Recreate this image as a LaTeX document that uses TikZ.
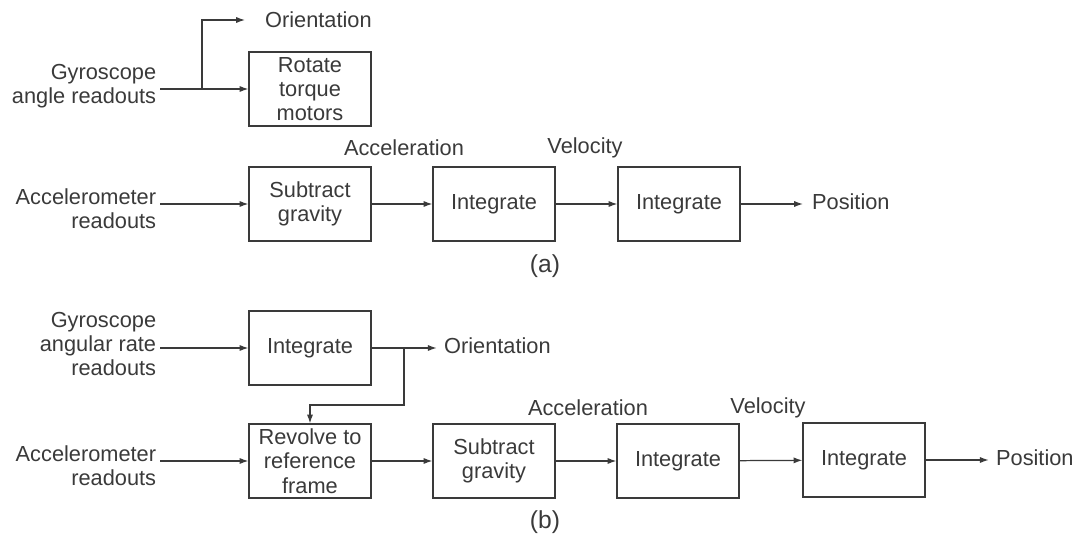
\documentclass[tikz,border=0pt]{standalone}
\usepackage{fontspec}
\setmainfont{Liberation Sans}
\usetikzlibrary{arrows.meta}
\definecolor{inkgray}{HTML}{3A3A3A}
\tikzset{
  blockbox/.style={draw=inkgray, line width=0.7pt, align=center, inner sep=0pt,
    minimum width=2.44cm, minimum height=1.48cm, text=inkgray},
  sidetext/.style={align=right, anchor=east, inner sep=2pt, text=inkgray},
  plaintext/.style={inner sep=1pt, text=inkgray},
  flow/.style={draw=inkgray, line width=0.7pt, -{Latex[length=5pt,width=3.5pt]}}
}
\begin{document}
\begin{tikzpicture}[x=0.02cm,y=-0.02cm, font=\fontsize{12.4}{13.8}\selectfont]
\useasboundingbox (0,0) rectangle (1080,551);
% (a) gimballed platform
\node[sidetext] (gyroa) at (160,86) {Gyroscope\\angle readouts};
\node[blockbox] (rot) at (310,89) {Rotate\\torque\\motors};
\node[plaintext, anchor=west] (oria) at (263,20) {Orientation};
\coordinate (bra) at (202,89);
\coordinate (oriend) at (245,20);
\draw[flow] (gyroa.east |- rot) -- (rot.west);
\draw[flow] (bra) |- (oriend);
\node[sidetext] (acca) at (160,209) {Accelerometer\\readouts};
\node[blockbox] (suba) at (310,204) {Subtract\\gravity};
\node[blockbox] (inta) at (494,204) {Integrate};
\node[blockbox] (intaa) at (679,204) {Integrate};
\node[plaintext, anchor=west] (posa) at (810,202) {Position};
\node[plaintext] (accla) at (404,148) {Acceleration};
\node[plaintext] (vela) at (585,148) {Velocity};
\draw[flow] (acca.east |- suba) -- (suba.west);
\draw[flow] (suba) -- (inta);
\draw[flow] (inta) -- (intaa);
\draw[flow] (intaa.east) -- ([xshift=-4pt]posa.west |- intaa);
\node[plaintext, font=\fontsize{14}{16}\selectfont] (capa) at (545,266) {(a)};
% (b) strapdown
\node[sidetext] (gyrob) at (160,344) {Gyroscope\\angular rate\\readouts};
\node[blockbox] (intb) at (310,348) {Integrate};
\node[plaintext, anchor=west] (orib) at (442,346) {Orientation};
\coordinate (brb) at (404,348);
\draw[flow] (gyrob.east |- intb) -- (intb.west);
\draw[flow] (intb.east) -- ([xshift=-3pt]orib.west |- intb);
\node[sidetext] (accb) at (160,466) {Accelerometer\\readouts};
\node[blockbox] (rev) at (310,461) {Revolve to\\reference\\frame};
\node[blockbox] (subb) at (494,461) {Subtract\\gravity};
\node[blockbox] (intbb) at (678,461) {Integrate};
\node[blockbox] (intbc) at (864,460) {Integrate};
\node[plaintext, anchor=west] (posb) at (994,458) {Position};
\node[plaintext] (acclb) at (588,408) {Acceleration};
\node[plaintext] (velb) at (768,408) {Velocity};
\draw[flow] (brb) -- ++(0,57) -| (rev.north);
\draw[flow] (accb.east |- rev) -- (rev.west);
\draw[flow] (rev) -- (subb);
\draw[flow] (subb) -- (intbb);
\draw[flow] (intbb) -- (intbc);
\draw[flow] (intbc.east) -- ([xshift=-3pt]posb.west |- intbc);
\node[plaintext, font=\fontsize{14}{16}\selectfont] (capb) at (545,522) {(b)};
\end{tikzpicture}
\end{document}
